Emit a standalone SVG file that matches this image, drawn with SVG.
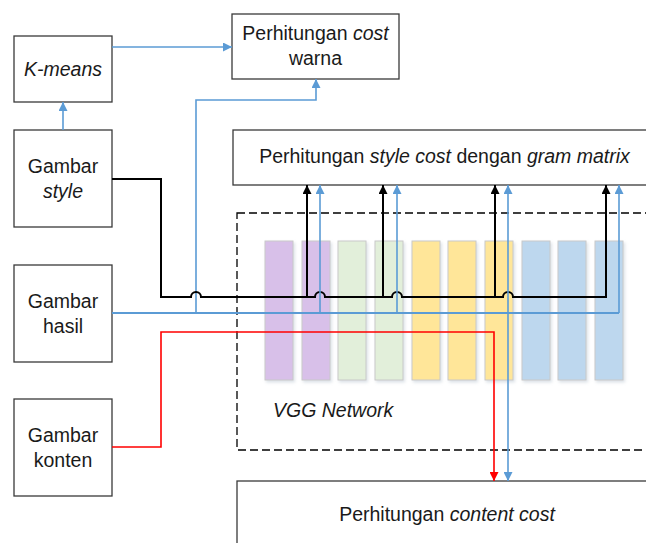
<svg xmlns="http://www.w3.org/2000/svg" width="646" height="543" viewBox="0 0 646 543">
<defs>
<style>
.box{fill:#fff;stroke:#3a3a3a;stroke-width:1.3}
.t{font-family:"Liberation Sans",Arial,sans-serif;font-size:19.5px;fill:#1a1a1a;text-anchor:middle}
.i{font-style:italic}
.bk{fill:none;stroke:#000;stroke-width:2}
.bl{fill:none;stroke:#5b9bd5;stroke-width:1.6}
.rd{fill:none;stroke:#ff0000;stroke-width:1.6}
.bar{stroke:#c9c9c9;stroke-width:1;filter:url(#sh)}
.pu{fill:#d8c0e9}.gr{fill:#e2efda}.ye{fill:#ffe699}.bu{fill:#bdd7ee}
</style>
<filter id="sh" x="-20%" y="-10%" width="150%" height="130%">
<feDropShadow dx="1.5" dy="2" stdDeviation="1.5" flood-color="#9ab" flood-opacity="0.35"/>
</filter>
<marker id="ab" viewBox="0 0 10 10" refX="10" refY="5" markerWidth="9" markerHeight="9" markerUnits="userSpaceOnUse" orient="auto"><path d="M0,0L10,5L0,10z" fill="#000"/></marker>
<marker id="abl" viewBox="0 0 10 10" refX="10" refY="5" markerWidth="9" markerHeight="9" markerUnits="userSpaceOnUse" orient="auto"><path d="M0,0L10,5L0,10z" fill="#5b9bd5"/></marker>
<marker id="ar" viewBox="0 0 10 10" refX="10" refY="5" markerWidth="9" markerHeight="9" markerUnits="userSpaceOnUse" orient="auto"><path d="M0,0L10,5L0,10z" fill="#ff0000"/></marker>
</defs>

<g id="vgg-network">
<rect x="237" y="213" width="420" height="237" fill="none" stroke="#000" stroke-width="1.3" stroke-dasharray="8,4"/>
<rect class="bar pu" x="265" y="241" width="28" height="139"/>
<rect class="bar pu" x="302" y="241" width="28" height="139"/>
<rect class="bar gr" x="338" y="241" width="28" height="139"/>
<rect class="bar gr" x="375" y="241" width="28" height="139"/>
<rect class="bar ye" x="412" y="241" width="28" height="139"/>
<rect class="bar ye" x="448" y="241" width="28" height="139"/>
<rect class="bar ye" x="485" y="241" width="28" height="139"/>
<rect class="bar bu" x="522" y="241" width="28" height="139"/>
<rect class="bar bu" x="558" y="241" width="28" height="139"/>
<rect class="bar bu" x="595" y="241" width="28" height="139"/>
<text class="t i" x="273" y="417" style="text-anchor:start">VGG Network</text>
</g>

<g id="kmeans">
<rect class="box" x="14" y="36" width="98" height="66"/>
<text class="t i" x="63" y="76">K-means</text>
</g>
<g id="cost-warna">
<rect class="box" x="232" y="14" width="167" height="65"/>
<text class="t" x="315.5" y="40">Perhitungan <tspan class="i">cost</tspan></text>
<text class="t" x="315.5" y="65">warna</text>
</g>
<g id="gambar-style">
<rect class="box" x="14" y="130" width="98" height="97"/>
<text class="t" x="63" y="173">Gambar</text>
<text class="t i" x="63" y="198">style</text>
</g>
<g id="style-cost">
<rect class="box" x="233" y="130" width="420" height="55"/>
<text class="t" x="444.5" y="163">Perhitungan <tspan class="i">style cost</tspan> dengan <tspan class="i">gram matrix</tspan></text>
</g>
<g id="gambar-hasil">
<rect class="box" x="14" y="265" width="98" height="97"/>
<text class="t" x="63" y="308">Gambar</text>
<text class="t" x="63" y="333">hasil</text>
</g>
<g id="gambar-konten">
<rect class="box" x="14" y="399" width="98" height="97"/>
<text class="t" x="63" y="442">Gambar</text>
<text class="t" x="63" y="467">konten</text>
</g>
<g id="content-cost">
<rect class="box" x="237" y="481" width="420" height="80"/>
<text class="t" x="447" y="521">Perhitungan <tspan class="i">content cost</tspan></text>
</g>

<g id="connectors">
<path class="bl" d="M63,130V102" marker-end="url(#abl)"/>
<path class="bl" d="M112,47H232" marker-end="url(#abl)"/>
<path class="bl" d="M196,313V100H316V79" marker-end="url(#abl)"/>
<path class="bk" d="M112,179H161V297H191A5,5 0 0 1 201,297H315A5,5 0 0 1 325,297H392A5,5 0 0 1 402,297H503A5,5 0 0 1 513,297H606V185" marker-end="url(#ab)"/>
<path class="bk" d="M307,297V185" marker-end="url(#ab)"/>
<path class="bk" d="M383,297V185" marker-end="url(#ab)"/>
<path class="bk" d="M495,297V185" marker-end="url(#ab)"/>
<path class="bl" style="stroke-width:2" d="M112,313H619"/>
<path class="bl" d="M619,313V185" marker-end="url(#abl)"/>
<path class="bl" d="M320,313V185" marker-end="url(#abl)"/>
<path class="bl" d="M397,313V185" marker-end="url(#abl)"/>
<path class="bl" d="M508,313V185" marker-end="url(#abl)"/>
<path class="bl" d="M508,313V481" marker-end="url(#abl)"/>
<path class="rd" d="M112,447H161V332H494V481" marker-end="url(#ar)"/>
</g>
</svg>
